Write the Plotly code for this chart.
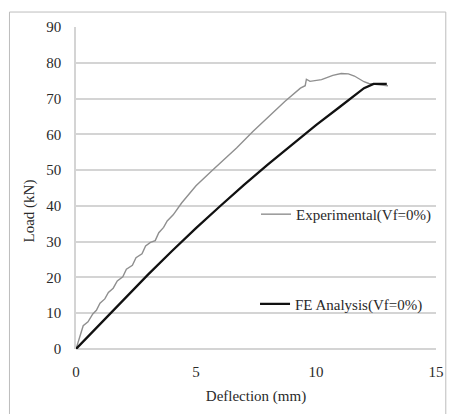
import plotly.graph_objects as go

exp_x = [0, 0.15, 0.3, 0.5, 0.7, 0.85, 1.0, 1.2, 1.35, 1.55, 1.72, 1.95, 2.1, 2.35, 2.5, 2.75,
         2.9, 3.1, 3.3, 3.45, 3.65, 3.8, 4.05, 4.4, 5.0, 5.74, 6.69, 7.37, 8.05, 8.7, 9.35,
         9.55, 9.6, 9.75, 10.23, 10.7, 11.05, 11.35, 11.6, 12.0, 12.2, 12.5, 13.0]
exp_y = [0, 3.5, 6.5, 7.6, 9.8, 10.8, 12.8, 14.0, 15.8, 17.0, 19.0, 20.2, 22.3, 23.4, 25.5, 26.6,
         28.8, 29.8, 30.3, 32.5, 34.0, 35.8, 37.5, 40.8, 45.6, 50.3, 56.2, 60.8, 65.0, 69.2, 72.9,
         73.6, 75.4, 74.8, 75.3, 76.5, 77.0, 76.9, 76.3, 74.7, 74.2, 74.0, 73.6]

fe_x = [0, 1, 2, 3, 4, 5, 6, 7, 8, 9, 10, 11, 11.6, 12, 12.4, 12.95]
fe_y = [0, 7, 14, 20.8, 27.4, 33.8, 39.9, 45.9, 51.6, 57.2, 62.6, 67.7, 70.8, 72.9, 74.1, 74.1]

x_ticks = [0, 5, 10, 15]
y_ticks = [0, 10, 20, 30, 40, 50, 60, 70, 80, 90]

FONT = "Liberation Serif, Times New Roman, serif"
TXT = "#2a2a2a"

fig = go.Figure()
fig.add_trace(go.Scatter(x=exp_x, y=exp_y, mode="lines", name="Experimental(Vf=0%)",
                         line=dict(color="#8f8f8f", width=1.4), legend="legend",
                         showlegend=True))
fig.add_trace(go.Scatter(x=fe_x, y=fe_y, mode="lines", name="FE Analysis(Vf=0%)",
                         line=dict(color="#111111", width=2.3), legend="legend2",
                         showlegend=True))

W, H = 456, 414
L, R, T, B = 76, 12, 27, 64
pw, ph = W - L - R, H - T - B

def px(xp):
    return (xp - L) / pw

def py(yp):
    return (H - B - yp) / ph

fig.update_layout(
    width=W, height=H,
    margin=dict(l=L, r=R, t=T, b=B),
    paper_bgcolor="white", plot_bgcolor="white",
    showlegend=True,
    font=dict(family=FONT, size=15, color=TXT),
    legend=dict(x=px(260), y=py(215), xanchor="left", yanchor="middle",
                bgcolor="rgba(0,0,0,0)", font=dict(family=FONT, size=15, color=TXT),
                itemwidth=30),
    legend2=dict(x=px(259), y=py(305), xanchor="left", yanchor="middle",
                 bgcolor="rgba(0,0,0,0)", font=dict(family=FONT, size=15, color=TXT),
                 itemwidth=30),
    xaxis=dict(range=[0, 15], tickvals=x_ticks, showgrid=False, zeroline=False,
               showline=False, ticks="", tickfont=dict(size=15), ticklabelstandoff=12,
               title=dict(text="Deflection (mm)", font=dict(size=15), standoff=11)),
    yaxis=dict(range=[0, 90], tickvals=y_ticks, showgrid=True, gridcolor="#d4d4d4",
               gridwidth=1.5, zeroline=True, zerolinecolor="#d4d4d4", zerolinewidth=1.5,
               showline=True, linecolor="#d4d4d4",
               linewidth=1.5, ticks="", ticklabelstandoff=10, tickfont=dict(size=15)),
    annotations=[dict(text="Load (kN)", textangle=-90, xref="paper", yref="paper",
                      x=px(28), y=py(212), xanchor="center", yanchor="middle",
                      showarrow=False, font=dict(family=FONT, size=15, color=TXT))],
    shapes=[dict(type="rect", xref="paper", yref="paper",
                 x0=px(8), x1=px(454), y0=py(12), y1=py(418),
                 line=dict(color="#bdbdbd", width=1), fillcolor="rgba(0,0,0,0)",
                 layer="above")],
)

fig.write_html("out.html")
